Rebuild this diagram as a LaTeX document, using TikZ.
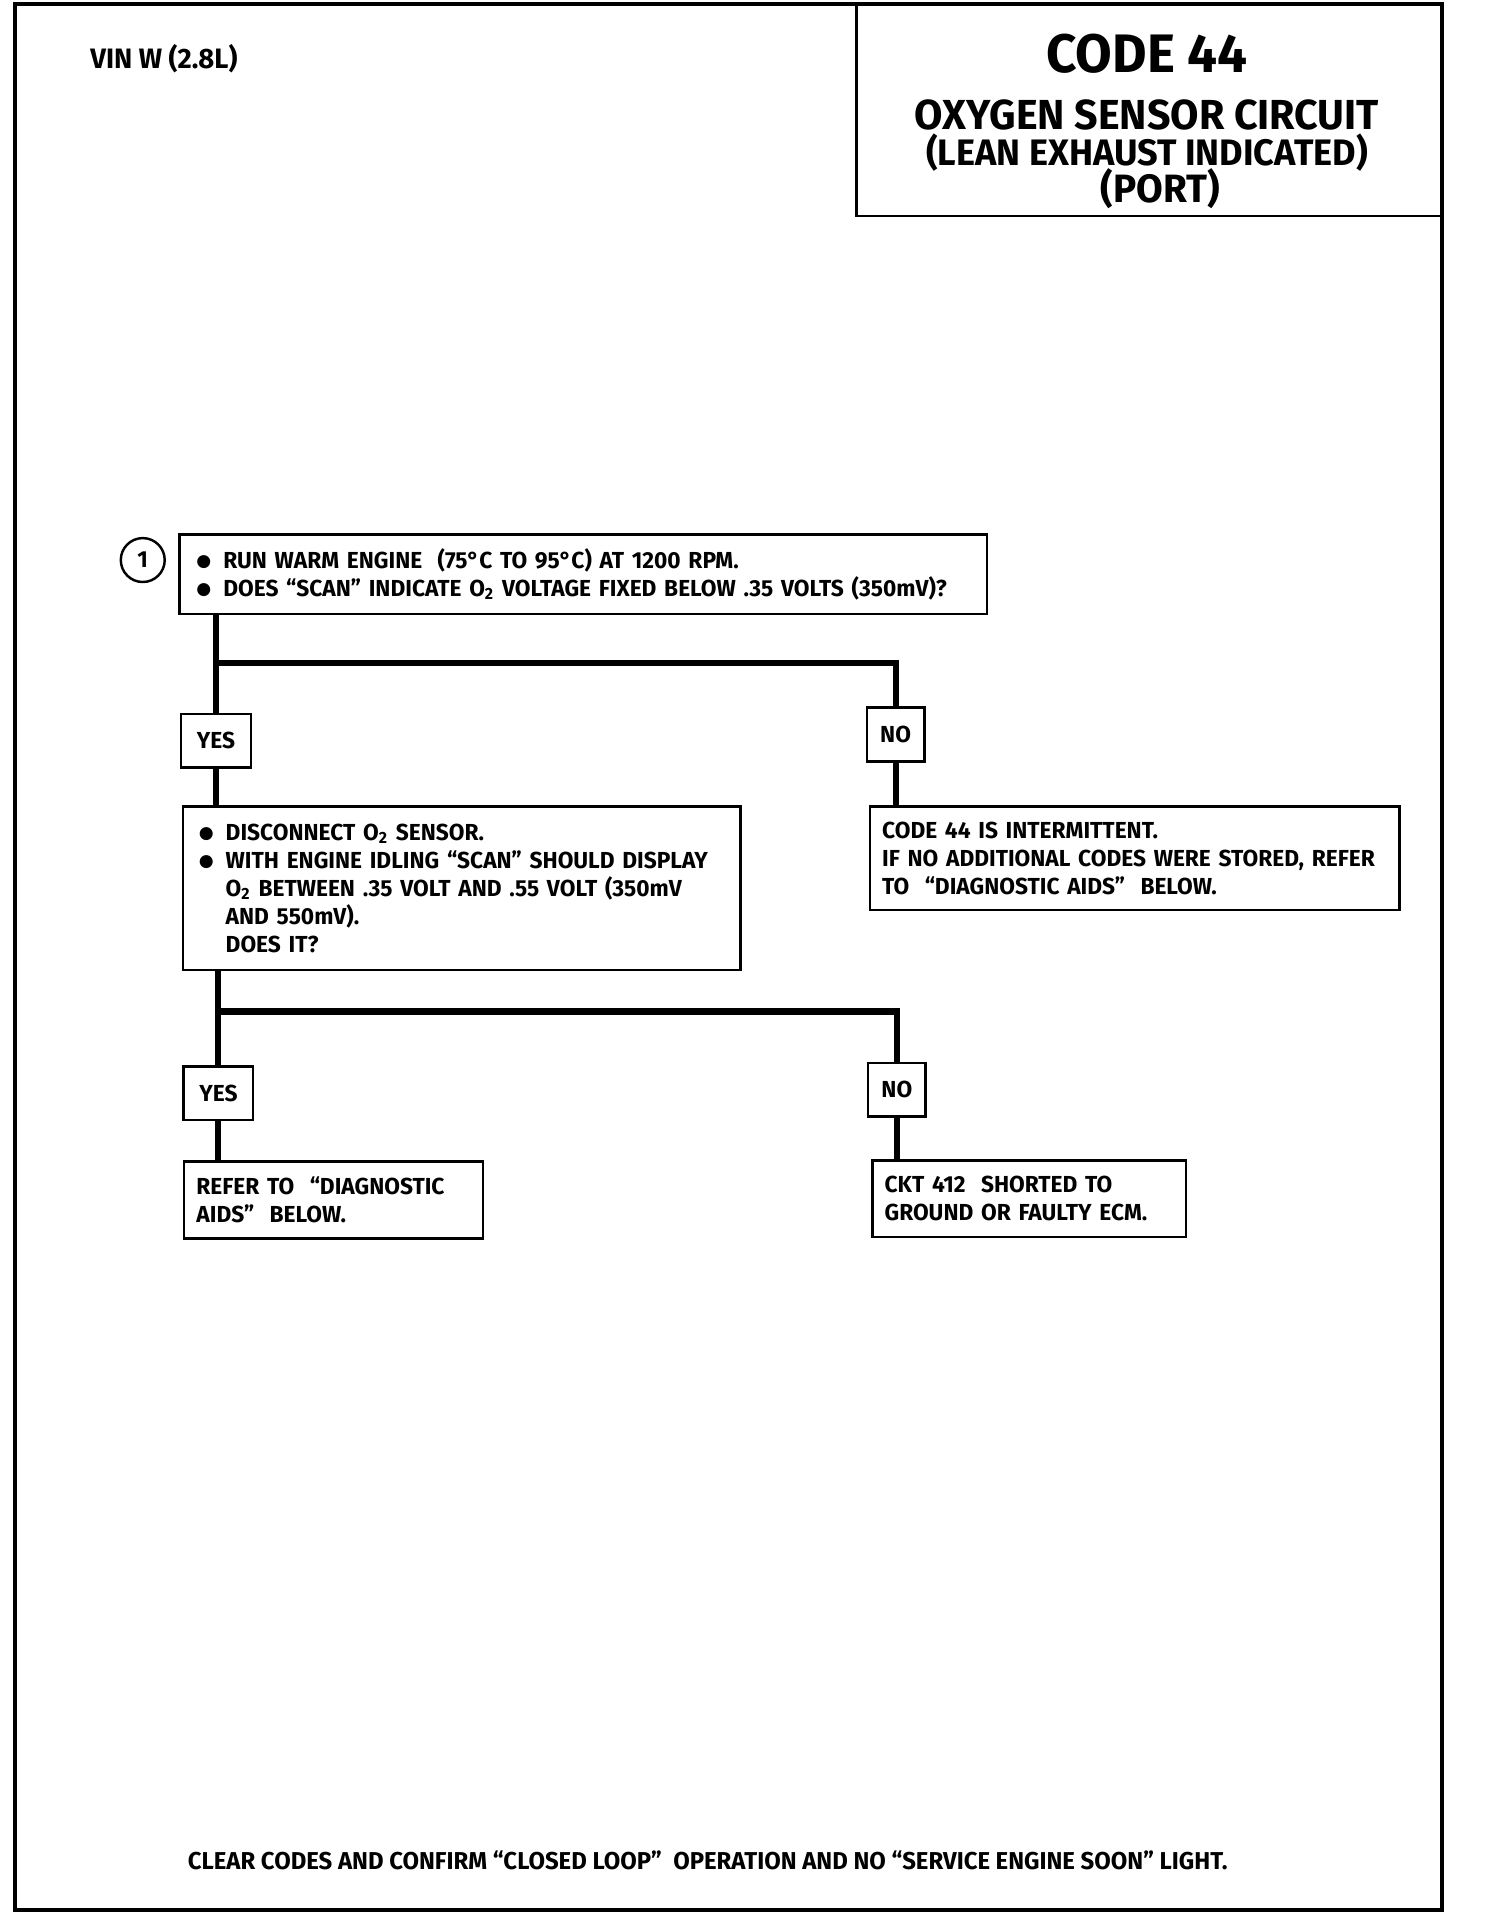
\documentclass[tikz,border=0pt]{standalone}
\usepackage{fontspec}
\setmainfont{Fira Sans}[FakeStretch=0.98]
\newfontfamily\symfont{DejaVu Sans}

\newcommand{\body}{\fontsize{9.5}{11.5}\selectfont\bfseries}
\newcommand{\bul}{\makebox[11pt][l]{\raisebox{0.6pt}{\symfont\fontsize{7}{7}\selectfont ●}}}

\begin{document}
\begin{tikzpicture}[x=0.5pt, y=-0.5pt,
  stepbox/.style={draw, line width=1pt, anchor=north west, align=left, inner ysep=0pt, font=\body},
  answer/.style={draw, line width=1pt, minimum height=22pt, inner sep=0pt, font=\body},
  heading/.style={inner sep=0pt},
  flow/.style={line width=2.5pt}]

\useasboundingbox (0,0) rectangle (1233,1567);
\draw[line width=1.6pt] (12,3) rectangle (1182,1565);

% title block
\draw[line width=1.2pt] (702,3) rectangle (1182,177);
\node[heading, font=\fontsize{22.2}{22}\selectfont\bfseries] (code) at (940,44) {CODE 44};
\node[heading, font=\fontsize{17.2}{17}\selectfont\bfseries] (circuit) at (940,94) {OXYGEN SENSOR CIRCUIT};
\node[heading, font=\fontsize{15.1}{15}\selectfont\bfseries] (lean) at (940,125) {(LEAN EXHAUST INDICATED)};
\node[heading, font=\fontsize{16.2}{16}\selectfont\bfseries] (port) at (951,155) {(PORT)};
\node[anchor=west, font=\fontsize{11.5}{11.5}\selectfont\bfseries] (vin) at (67,48) {VIN W (2.8L)};

\node[draw, circle, line width=1pt, minimum size=18pt, inner sep=0pt, font=\body] (one) at (117,459) {1};

\node[stepbox, text width=317pt, inner xsep=7pt, minimum height=32.5pt] (check) at (146,437)
  {\bul RUN WARM ENGINE\ \ (75°C TO 95°C) AT 1200 RPM.\\
   \bul DOES ``SCAN'' INDICATE O\textsubscript{2} VOLTAGE FIXED BELOW .35 VOLTS (350mV)?};

\node[stepbox, text width=215.5pt, inner xsep=6.5pt, minimum height=67pt] (disc) at (149,660)
  {\bul DISCONNECT O\textsubscript{2} SENSOR.\\
   \bul WITH ENGINE IDLING ``SCAN'' SHOULD DISPLAY\\
   \hspace*{11pt}O\textsubscript{2} BETWEEN .35 VOLT AND .55 VOLT (350mV\\
   \hspace*{11pt}AND 550mV).\\
   \hspace*{11pt}DOES IT?};

\node[stepbox, text width=207pt, inner xsep=5pt, minimum height=42.5pt] (inter) at (712,660)
  {CODE 44 IS INTERMITTENT.\\
   \mbox{IF NO ADDITIONAL CODES WERE STORED, REFER}\\
   TO\ \ ``DIAGNOSTIC AIDS''\ \ BELOW.};

\node[stepbox, text width=112.5pt, inner xsep=5pt, minimum height=31.5pt] (aids) at (150,951)
  {REFER TO\ \ ``DIAGNOSTIC\\
   AIDS''\ \ BELOW.};

\node[stepbox, text width=118.5pt, inner xsep=5pt, minimum height=31.5pt] (ckt) at (714,950)
  {CKT 412\ \ SHORTED TO\\
   GROUND OR FAULTY ECM.};

\node[answer, minimum width=28.5pt] (yesA) at (177,607) {YES};
\node[answer, minimum width=23.5pt] (noA) at (734,602) {NO};
\node[answer, minimum width=28.5pt] (yesB) at (179,896) {YES};
\node[answer, minimum width=23.5pt] (noB) at (735,893) {NO};

\coordinate (splitA) at (177,543);
\coordinate (splitB) at (179,829);

\draw[flow] (yesA.north |- check.south) -- (yesA.north);
\draw[flow] (splitA) -| (noA.north);
\draw[flow] (yesA.south) -- (yesA.south |- disc.north);
\draw[flow] (noA.south) -- (noA.south |- inter.north);

\draw[flow] (yesB.north |- disc.south) -- (yesB.north);
\draw[flow] (splitB) -| (noB.north);
\draw[flow] (yesB.south) -- (yesB.south |- aids.north);
\draw[flow] (noB.south) -- (noB.south |- ckt.north);

\node[font=\fontsize{10}{12}\selectfont\bfseries] (clear) at (580,1525)
  {CLEAR CODES AND CONFIRM ``CLOSED LOOP''\ \ OPERATION AND NO ``SERVICE ENGINE SOON'' LIGHT.};

\end{tikzpicture}
\end{document}
